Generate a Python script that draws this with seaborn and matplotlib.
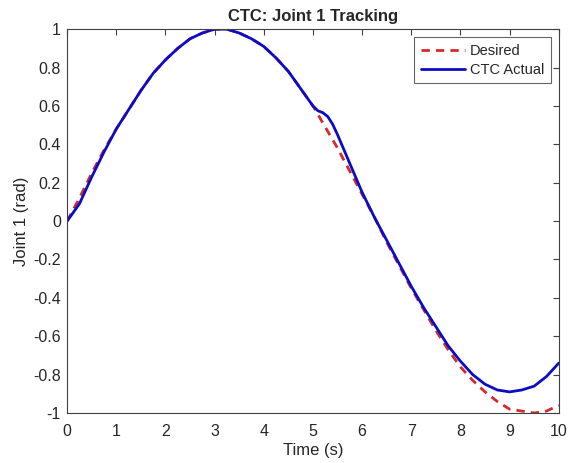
import matplotlib
matplotlib.use("Agg")
import matplotlib.pyplot as plt
import pandas as pd
import seaborn as sns

# Desired trajectory
t_des = [0.0, 0.25, 0.5, 0.75, 1.0, 1.25, 1.5, 1.75, 2.0, 2.25, 2.5, 2.75,
         3.0, 3.25, 3.5, 3.75, 4.0, 4.25, 4.5, 4.75, 5.0, 5.25, 5.5, 5.75,
         6.0, 6.25, 6.5, 6.75, 7.0, 7.25, 7.5, 7.75, 8.0, 8.25, 8.5, 8.75,
         9.0, 9.25, 9.5, 9.75, 10.0]
q_des = [0.00, 0.12, 0.25, 0.37, 0.48, 0.58, 0.68, 0.77, 0.84, 0.90, 0.95, 0.98,
         1.00, 1.00, 0.98, 0.95, 0.91, 0.85, 0.78, 0.69, 0.60, 0.49, 0.38, 0.26,
         0.14, 0.02, -0.11, -0.23, -0.35, -0.46, -0.57, -0.67, -0.76, -0.83, -0.89, -0.94,
         -0.98, -0.99, -1.00, -0.99, -0.96]

# CTC actual response
t_act = [0.0, 0.25, 0.5, 0.75, 1.0, 1.25, 1.5, 1.75, 2.0, 2.25, 2.5, 2.75,
         3.0, 3.25, 3.5, 3.75, 4.0, 4.25, 4.5, 4.75, 5.0, 5.1, 5.2, 5.3, 5.4,
         5.5, 5.75, 6.0, 6.25, 6.5, 6.75, 7.0, 7.25, 7.5, 7.75, 8.0, 8.25, 8.5,
         8.75, 9.0, 9.25, 9.5, 9.75, 10.0]
q_act = [0.00, 0.09, 0.23, 0.36, 0.48, 0.58, 0.68, 0.77, 0.84, 0.90, 0.95, 0.98,
         1.00, 1.00, 0.98, 0.95, 0.91, 0.85, 0.78, 0.69, 0.60, 0.575, 0.565, 0.545, 0.505,
         0.45, 0.30, 0.15, 0.02, -0.10, -0.22, -0.34, -0.45, -0.55, -0.65, -0.73, -0.80, -0.85,
         -0.88, -0.89, -0.88, -0.86, -0.81, -0.74]

des = pd.DataFrame({"t": t_des, "q": q_des})
act = pd.DataFrame({"t": t_act, "q": q_act})

sns.set_style("white")
plt.rcParams["font.family"] = ["Liberation Sans", "DejaVu Sans"]
plt.rcParams["xtick.direction"] = "in"
plt.rcParams["ytick.direction"] = "in"

fig = plt.figure(figsize=(5.69, 4.63), dpi=100)
ax = fig.add_axes([0.118, 0.108, 0.864, 0.829])

sns.lineplot(data=des, x="t", y="q", ax=ax, color="#d42a2a", lw=2,
             linestyle=(0, (3, 2.2)), label="Desired", sort=False)
sns.lineplot(data=act, x="t", y="q", ax=ax, color="#0c0cc4", lw=2,
             label="CTC Actual", sort=False)

ax.set_xlim(0, 10)
ax.set_ylim(-1, 1)
ax.set_xticks(range(0, 11))
ax.set_yticks([-1, -0.8, -0.6, -0.4, -0.2, 0, 0.2, 0.4, 0.6, 0.8, 1])
ax.set_yticklabels(["-1", "-0.8", "-0.6", "-0.4", "-0.2", "0",
                    "0.2", "0.4", "0.6", "0.8", "1"])
ax.tick_params(axis="both", which="both", top=True, right=True, length=4,
               width=0.8, colors="#404040", labelsize=11.5, labelcolor="#262626")
ax.tick_params(axis="x", pad=8)
ax.tick_params(axis="y", pad=4.5)
for s in ax.spines.values():
    s.set_color("#404040")
    s.set_linewidth(0.8)

ax.set_xlabel("Time (s)", fontsize=12, color="#262626", labelpad=3)
ax.set_ylabel("Joint 1 (rad)", fontsize=12, color="#262626", labelpad=3)
ax.set_title("CTC: Joint 1 Tracking", fontsize=12, fontweight="bold", pad=6)

leg = ax.legend(loc="upper right", fontsize=10.5, handlelength=3.0, frameon=True,
                fancybox=False, borderaxespad=0.55, labelspacing=0.35,
                handletextpad=0.35, borderpad=0.45)
leg.get_frame().set_edgecolor("#404040")
leg.get_frame().set_linewidth(0.8)

fig.savefig("out.png", dpi=100)
